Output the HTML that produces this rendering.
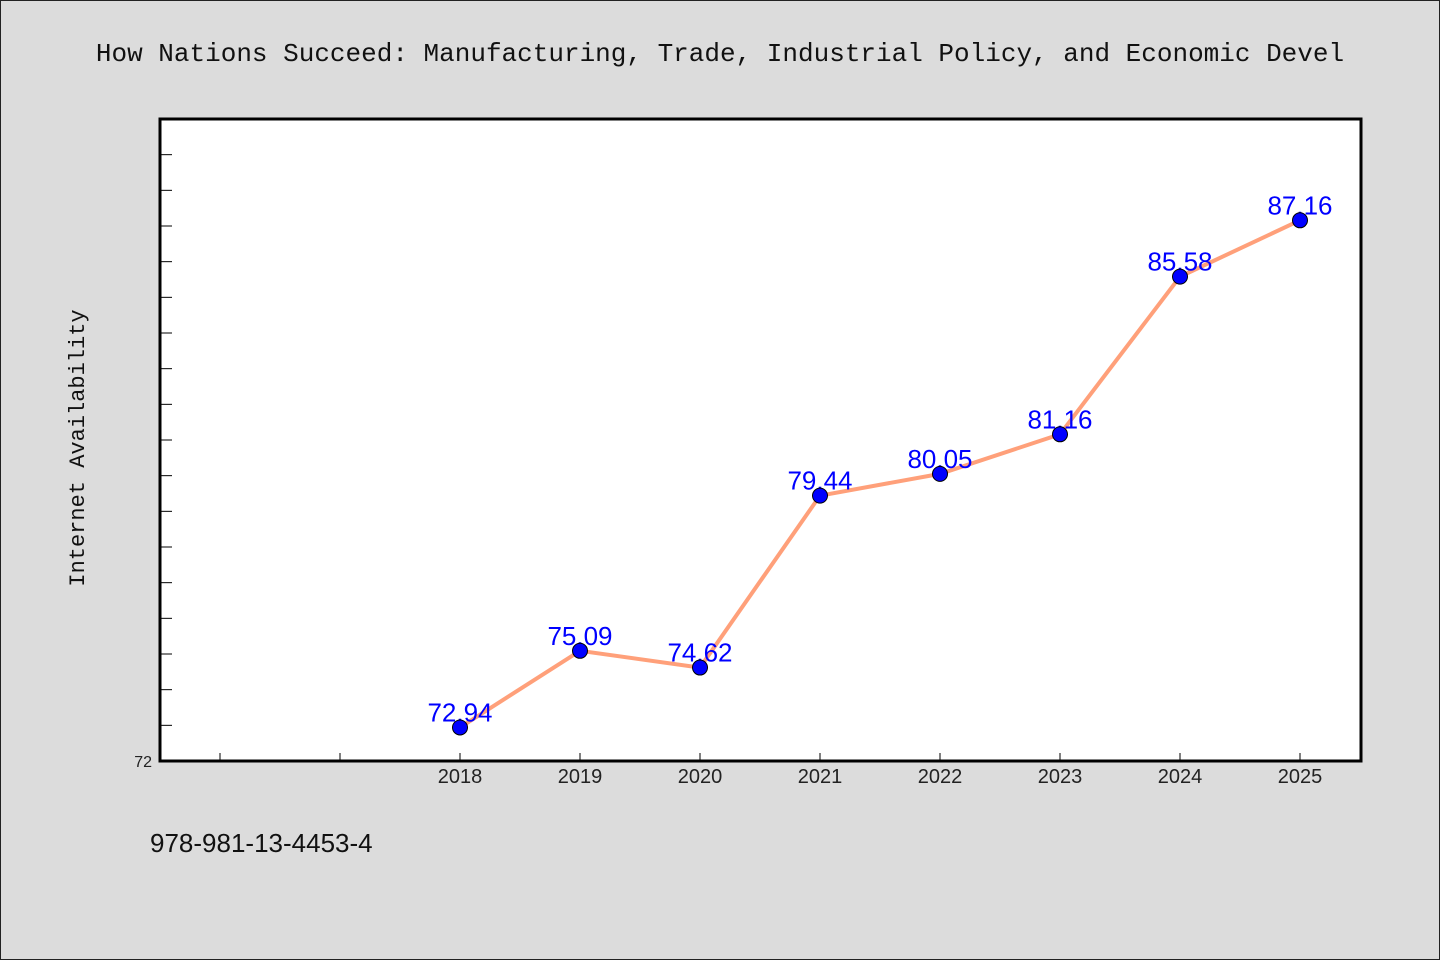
<!DOCTYPE html>
<html><head><meta charset="utf-8"><style>
body{margin:0;background:#dcdcdc;}
svg{display:block;font-family:"WenQuanYi Zen Hei","Liberation Sans",sans-serif;}
</style></head><body>
<svg width="1440" height="960" viewBox="0 0 1440 960">
<rect x="0.5" y="0.5" width="1439" height="959" fill="#dcdcdc" stroke="#222"/>
<text x="720" y="61" text-anchor="middle" font-size="26" font-family="Liberation Mono, monospace" fill="#111">How Nations Succeed: Manufacturing, Trade, Industrial Policy, and Economic Devel</text>
<rect x="160" y="119" width="1201" height="642" fill="#fff" stroke="#000" stroke-width="3"/>
<text transform="translate(84,448) rotate(-90)" text-anchor="middle" font-size="22" font-family="Liberation Mono, monospace" fill="#111">Internet Availability</text>
<text x="150" y="420" font-size="0"></text>
<text x="150" y="852" font-size="26" fill="#111">978-981-13-4453-4</text>
<g id="axes"></g><g id="series"></g>
</svg>
<script>
const years=[2018,2019,2020,2021,2022,2023,2024,2025];
const values=[72.94,75.09,74.62,79.44,80.05,81.16,85.58,87.16];
const labels=["72.94","75.09","74.62","79.44","80.05","81.16","85.58","87.16"];
const xTicks=[2016,2017,2018,2019,2020,2021,2022,2023,2024,2025];
const yMin=72,yMax=90;
const L=160,R=1361,T=119,B=761;
const xs=y=>L+(y-2015.5)*120;
const ys=v=>B-(v-yMin)/(yMax-yMin)*(B-T);
const NS="http://www.w3.org/2000/svg";
function mk(tag,attrs,parent){const e=document.createElementNS(NS,tag);for(const k in attrs)e.setAttribute(k,attrs[k]);parent.appendChild(e);return e;}
const ax=document.getElementById('axes'),sr=document.getElementById('series');
for(let v=yMin+1;v<yMax;v++){
 const t=mk('line',{x1:L,x2:L+12,y1:ys(v),y2:ys(v),stroke:'#000','stroke-width':1},ax);
 
 
}
const yl=mk('text',{x:152,y:B+6,'text-anchor':'end','font-size':16,fill:'#222'},ax);
yl.textContent=String(yMin);


xTicks.forEach(y=>{
 const t=mk('line',{x1:xs(y),x2:xs(y),y1:B,y2:B-8,stroke:'#000','stroke-width':1},ax);
 
 
 if(years.includes(y)){
  const l=mk('text',{x:xs(y),y:B+22,'text-anchor':'middle','font-size':20,fill:'#222'},ax);
  l.textContent=String(y);
  
  
 }
});
const pl=mk('polyline',{points:years.map((y,i)=>xs(y)+','+ys(values[i])).join(' '),fill:'none',stroke:'#ffa07a','stroke-width':4},sr);


years.forEach((y,i)=>{
 const l=mk('text',{x:xs(y),y:ys(values[i])-6,'text-anchor':'middle','font-size':26,fill:'#0000ff'},sr);
 l.textContent=labels[i];
 
 
});
years.forEach((y,i)=>{
 const c=mk('circle',{cx:xs(y),cy:ys(values[i]),r:7.5,fill:'#0000ff',stroke:'#000','stroke-width':1},sr);
 
 
});
</script>
</body></html>
